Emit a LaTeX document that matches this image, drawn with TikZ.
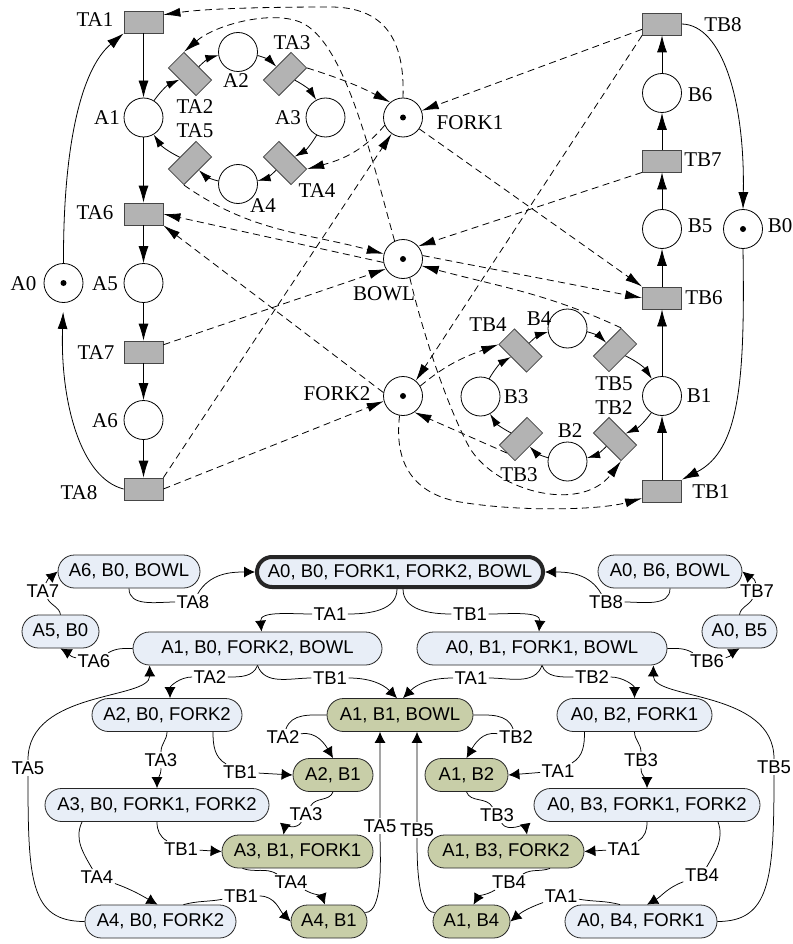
\documentclass[tikz,border=0pt]{standalone}
\usepackage{fontspec}
\setmainfont{Liberation Serif}
\newfontfamily\statefont{Liberation Sans}
\usetikzlibrary{arrows.meta}
\definecolor{transfill}{RGB}{179,179,179}
\definecolor{transline}{RGB}{70,70,70}
\definecolor{stateblue}{RGB}{232,238,247}
\definecolor{stategreen}{RGB}{200,206,168}
\begin{document}
\begin{tikzpicture}[x=1pt,y=-1pt,
  petriplace/.style={circle,draw,line width=0.8pt,minimum size=39pt,inner sep=0pt},
  petritrans/.style={rectangle,draw=transline,fill=transfill,line width=0.8pt,minimum width=39pt,minimum height=22pt,inner sep=0pt},
  plabel/.style={font=\fontsize{21}{24}\selectfont,inner sep=0pt},
  flowarc/.style={line width=0.8pt,-{Latex[length=17pt,width=10pt]}},
  ringarc/.style={line width=0.8pt,-{Latex[length=13pt,width=8pt]}},
  sharearc/.style={line width=0.8pt,dash pattern=on 7pt off 4.5pt,-{Latex[length=17pt,width=9pt]}},
  stnode/.style={rectangle,draw=black!85,line width=0.8pt,fill=stateblue,rounded corners=16.5pt,minimum height=33pt,inner xsep=3pt,inner ysep=0pt,font=\statefont\fontsize{18.5}{20}\selectfont},
  stboth/.style={stnode,fill=stategreen},
  ststart/.style={stnode,line width=4pt,rounded corners=15pt,minimum height=30pt},
  elabel/.style={font=\statefont\fontsize{18.5}{20}\selectfont,inner sep=1.5pt},
  firearc/.style={line width=0.75pt,-{Latex[length=11pt,width=11pt]}},
]
\fill[white] (0,0) rectangle (792,944);
\useasboundingbox (0,0) rectangle (792,944);

% ---------------- Petri net: philosopher A ----------------
\node[petritrans] (TA1) at (143.5,22) {};
\node[petriplace] (A1) at (143.5,117.5) {};
\node[petritrans] (TA6) at (143.5,214) {};
\node[petriplace] (A5) at (143.5,283) {};
\node[petritrans] (TA7) at (143.5,352) {};
\node[petriplace] (A6) at (143.5,420) {};
\node[petritrans] (TA8) at (143.5,489) {};
\node[petriplace] (A0) at (63.5,283) {};
\node[petriplace] (A2) at (238,52) {};
\node[petriplace] (A3) at (325.5,117.5) {};
\node[petriplace] (A4) at (238,184) {};
\node[petritrans,rotate=-45] (TA2) at (190,74) {};
\node[petritrans,rotate=45] (TA3) at (285,74) {};
\node[petritrans,rotate=-45] (TA4) at (285,163) {};
\node[petritrans,rotate=45] (TA5) at (190,163) {};

% shared resources
\node[petriplace] (F1) at (403,117.5) {};
\node[petriplace] (BW) at (403,259) {};
\node[petriplace] (F2) at (403,396) {};

% ---------------- Petri net: philosopher B ----------------
\node[petritrans] (TB8) at (662,24) {};
\node[petriplace] (B6) at (662,93) {};
\node[petritrans] (TB7) at (662,161) {};
\node[petriplace] (B5) at (662,229) {};
\node[petriplace] (B0) at (743,229) {};
\node[petritrans] (TB6) at (662,298) {};
\node[petriplace] (B1) at (662,396) {};
\node[petritrans] (TB1) at (662,491) {};
\node[petriplace] (B4) at (567.5,328.5) {};
\node[petriplace] (B3) at (480.5,396.5) {};
\node[petriplace] (B2) at (567.5,461.5) {};
\node[petritrans,rotate=-45] (TB4) at (520.5,350.5) {};
\node[petritrans,rotate=45] (TB5) at (615,350) {};
\node[petritrans,rotate=-45] (TB2) at (615,439) {};
\node[petritrans,rotate=45] (TB3) at (521,439) {};

% tokens
\foreach \p in {A0,F1,BW,F2,B0} \fill (\p) circle (3pt);

% place and transition names
\node[plabel] (lTA1) at (95,20) {TA1};
\node[plabel] (lA1) at (107,117.5) {A1};
\node[plabel] (lTA2) at (195,107) {TA2};
\node[plabel] (lA2) at (236,81) {A2};
\node[plabel] (lTA3) at (292,43) {TA3};
\node[plabel] (lA3) at (288,117.5) {A3};
\node[plabel] (lTA4) at (317,191) {TA4};
\node[plabel] (lA4) at (263,206) {A4};
\node[plabel] (lTA5) at (195,131) {TA5};
\node[plabel] (lTA6) at (95,213) {TA6};
\node[plabel] (lA0) at (23.5,283.5) {A0};
\node[plabel] (lA5) at (105,283.5) {A5};
\node[plabel] (lTA7) at (96,353) {TA7};
\node[plabel] (lA6) at (105,421) {A6};
\node[plabel] (lTA8) at (79,493) {TA8};
\node[plabel] (lF1) at (470,123) {FORK1};
\node[plabel] (lBW) at (384,294) {BOWL};
\node[plabel] (lF2) at (337,394) {FORK2};
\node[plabel] (lTB8) at (723,25) {TB8};
\node[plabel] (lB6) at (700,95) {B6};
\node[plabel] (lTB7) at (703,160) {TB7};
\node[plabel] (lB5) at (700,226) {B5};
\node[plabel] (lB0) at (780,226) {B0};
\node[plabel] (lTB6) at (704,298) {TB6};
\node[plabel] (lB4) at (539,319) {B4};
\node[plabel] (lTB4) at (488,325) {TB4};
\node[plabel] (lB3) at (516,397) {B3};
\node[plabel] (lTB5) at (614,384) {TB5};
\node[plabel] (lTB2) at (614,408) {TB2};
\node[plabel] (lB1) at (699,396) {B1};
\node[plabel] (lB2) at (570,431) {B2};
\node[plabel] (lTB3) at (519,475) {TB3};
\node[plabel] (lTB1) at (711,492) {TB1};

% control flow of A
\draw[flowarc] (TA1) -- (A1);
\draw[flowarc] (A1) -- (TA6);
\draw[flowarc] (TA6) -- (A5);
\draw[flowarc] (A5) -- (TA7);
\draw[flowarc] (TA7) -- (A6);
\draw[flowarc] (A6) -- (TA8);
\draw[flowarc] (A0.north) .. controls (63,150) and (80,70) .. (TA1.south west);
\draw[flowarc,shorten >=9pt] (TA8.west) .. controls (80,478) and (60,400) .. (A0.south);
\draw[ringarc] (A1) to[bend left=15] (TA2);
\draw[ringarc] (TA2) to[bend left=15] (A2);
\draw[ringarc] (A2) to[bend left=15] (TA3);
\draw[ringarc] (TA3) to[bend left=15] (A3);
\draw[ringarc] (A3) to[bend left=15] (TA4);
\draw[ringarc] (TA4) to[bend left=15] (A4);
\draw[ringarc] (A4) to[bend left=15] (TA5);
\draw[ringarc] (TA5) to[bend left=15] (A1);

% control flow of B
\draw[flowarc] (TB1) -- (B1);
\draw[flowarc] (B1) -- (TB6);
\draw[flowarc] (TB6) -- (B5);
\draw[flowarc] (B5) -- (TB7);
\draw[flowarc] (TB7) -- (B6);
\draw[flowarc] (B6) -- (TB8);
\draw[flowarc] (TB8.east) .. controls (722,25) and (745,100) .. (B0.north);
\draw[flowarc] (B0.south) .. controls (745,380) and (740,450) .. (TB1.north east);
\draw[ringarc] (B1) to[bend left=15] (TB2);
\draw[ringarc] (TB2) to[bend left=15] (B2);
\draw[ringarc] (B2) to[bend left=15] (TB3);
\draw[ringarc] (TB3) to[bend left=15] (B3);
\draw[ringarc] (B3) to[bend left=15] (TB4);
\draw[ringarc] (TB4) to[bend left=15] (B4);
\draw[ringarc] (B4) to[bend left=15] (TB5);
\draw[ringarc] (TB5) to[bend left=15] (B1);

% resource arcs of A
\draw[sharearc] (F1.north) .. controls (405,40) and (385,7) .. (330,7) .. controls (280,7) and (210,8) .. (TA1.20);
\draw[sharearc] (BW.115) .. controls (372,160) and (345,40) .. (300,22) .. controls (270,10) and (215,25) .. (TA2.north west);
\draw[sharearc] (TA3.south east) to[bend left=5] (F1.130);
\draw[sharearc] (F1.203) to[out=230,in=15] (TA4.north east);
\draw[sharearc] (TA5.south west) to[out=-35,in=165] (BW.165);
\draw[sharearc] (BW.190) -- (TA6.east);
\draw[sharearc] (F2.170) -- (TA6.south east);
\draw[sharearc] (TA7.20) -- (BW.210);
\draw[sharearc] (TA8.north east) -- (F1.235);
\draw[sharearc] (TA8.east) -- (F2.195);

% resource arcs of B
\draw[sharearc] (TB8.195) -- (F1.20);
\draw[sharearc] (TB8.south west) -- (F2.50);
\draw[sharearc] (TB7.south west) -- (BW.40);
\draw[sharearc] (F1.-35) -- (TB6.north west);
\draw[sharearc] (BW.10) -- (TB6.west);
\draw[sharearc] (TB5.north east) to[out=155,in=-15] (BW.-20);
\draw[sharearc] (F2.30) to[out=40,in=200] (TB4.south west);
\draw[sharearc] (TB3.west) -- (F2.-55);
\draw[sharearc] (BW.-70) .. controls (422,330) and (445,400) .. (467,443) .. controls (490,490) and (580,515) .. (TB2.south east);
\draw[sharearc] (F2.-100) .. controls (393,470) and (420,495) .. (460,502) .. controls (520,512) and (600,510) .. (TB1.200);

% ---------------- reachability graph ----------------
\node[stnode,minimum width=142pt] (qa6) at (129,571.5) {A6, B0, BOWL};
\node[ststart,minimum width=286pt] (q0) at (400,572) {A0, B0, FORK1, FORK2, BOWL};
\node[stnode,minimum width=144pt] (qb6) at (670,571.5) {A0, B6, BOWL};
\node[stnode,minimum width=77pt] (qa5) at (60.5,631.5) {A5, B0};
\node[stnode,minimum width=75pt] (qb5) at (739.5,631.5) {A0, B5};
\node[stnode,minimum width=249pt] (qa1) at (257.5,648.5) {A1, B0, FORK2, BOWL};
\node[stnode,minimum width=250pt] (qb1) at (542,648.5) {A0, B1, FORK1, BOWL};
\node[stnode,minimum width=150pt] (qa2) at (167,715) {A2, B0, FORK2};
\node[stboth,minimum width=146pt] (qa1b1) at (400,715) {A1, B1, BOWL};
\node[stnode,minimum width=155pt] (qb2) at (634.5,715) {A0, B2, FORK1};
\node[stboth,minimum width=80pt] (qa2b1) at (333,775) {A2, B1};
\node[stboth,minimum width=83pt] (qa1b2) at (466.5,775) {A1, B2};
\node[stnode,minimum width=224pt] (qa3) at (157,805) {A3, B0, FORK1, FORK2};
\node[stnode,minimum width=226pt] (qb3) at (647,805) {A0, B3, FORK1, FORK2};
\node[stboth,minimum width=151pt] (qa3b1) at (297.5,851.5) {A3, B1, FORK1};
\node[stboth,minimum width=156pt] (qa1b3) at (506,851.5) {A1, B3, FORK2};
\node[stnode,minimum width=151pt] (qa4) at (160.5,921.5) {A4, B0, FORK2};
\node[stboth,minimum width=76pt] (qa4b1) at (329,921.5) {A4, B1};
\node[stboth,minimum width=77pt] (qa1b4) at (471.5,921.5) {A1, B4};
\node[stnode,minimum width=152pt] (qb4) at (641,921.5) {A0, B4, FORK1};

% transition labels on the edges
\node[elabel] (e1) at (193,602) {TA8};
\node[elabel] (e2) at (330,614) {TA1};
\node[elabel] (e3) at (470,614) {TB1};
\node[elabel] (e4) at (606,602) {TB8};
\node[elabel] (e5) at (43,591) {TA7};
\node[elabel] (e6) at (94,661) {TA6};
\node[elabel] (e7) at (210,677) {TA2};
\node[elabel] (e8) at (330,678) {TB1};
\node[elabel] (e9) at (471,678) {TA1};
\node[elabel] (e10) at (592,677) {TB2};
\node[elabel] (e11) at (707,661) {TB6};
\node[elabel] (e12) at (757,591) {TB7};
\node[elabel] (e13) at (28,768) {TA5};
\node[elabel] (e14) at (774,767) {TB5};
\node[elabel] (e15) at (161,760) {TA3};
\node[elabel] (e16) at (240,772) {TB1};
\node[elabel] (e17) at (283,737) {TA2};
\node[elabel] (e18) at (516,737) {TB2};
\node[elabel] (e19) at (641,760) {TB3};
\node[elabel] (e20) at (558,771) {TA1};
\node[elabel] (e21) at (306,814) {TA3};
\node[elabel] (e22) at (497,815) {TB3};
\node[elabel] (e23) at (181,849) {TB1};
\node[elabel] (e24) at (624,849) {TA1};
\node[elabel] (e25) at (97,877) {TA4};
\node[elabel] (e26) at (702,875) {TB4};
\node[elabel] (e27) at (291,882) {TA4};
\node[elabel] (e28) at (509,882) {TB4};
\node[elabel] (e29) at (241,896) {TB1};
\node[elabel] (e30) at (561,896) {TA1};
\node[elabel] (e31) at (380,826) {TA5};
\node[elabel] (e32) at (417,830) {TB5};

% edges
\draw[firearc] (qa6.south) to[out=-90,in=180] (e1) to[out=60,in=180] (q0.west);
\draw[firearc] ([xshift=-3pt]q0.south) to[out=-90,in=0] (e2) to[out=180,in=95] ([xshift=4pt]qa1.north);
\draw[firearc] ([xshift=3pt]q0.south) to[out=-90,in=180] (e3) to[out=0,in=85] ([xshift=-3pt]qb1.north);
\draw[firearc] (qb6.south) to[out=-90,in=0] (e4) to[out=120,in=0] (q0.east);
\draw[firearc] (qa5.north) to[out=100,in=-60] (e5) to[out=70,in=-140] (qa6.west);
\draw[firearc] (qa1.west) to[out=180,in=30] (e6) to[out=170,in=-30] (qa5.south);
\draw[firearc] (qa1.south) to[out=-110,in=0] (e7) to[out=180,in=90] ([xshift=3pt]qa2.north);
\draw[firearc] (qa1.south) to[out=-70,in=180] (e8) to[out=0,in=135] ([xshift=-3pt]qa1b1.north);
\draw[firearc] (qb1.south) to[out=-110,in=0] (e9) to[out=180,in=45] ([xshift=3pt]qa1b1.north);
\draw[firearc] (qb1.south) to[out=-70,in=180] (e10) to[out=0,in=90] (qb2.north);
\draw[firearc] (qb1.east) to[out=0,in=150] (e11) to[out=10,in=-150] (qb5.south);
\draw[firearc] (qb5.north) to[out=80,in=-120] (e12) to[out=100,in=-40] (qb6.east);
\draw[firearc] (qa4.west) .. controls (30,921.5) and (28,880) .. (e13) .. controls (28,690) and (150,700) .. ([xshift=17pt]qa1.south west);
\draw[firearc] (qb4.east) .. controls (770,921.5) and (774,880) .. (e14) .. controls (774,690) and (653,700) .. ([xshift=-14pt]qb1.south east);
\draw[firearc] (qa2.south) to[out=-90,in=90] (e15) to[out=-90,in=90] (qa3.north);
\draw[firearc] ([xshift=46pt]qa2.south) to[out=-90,in=150] (e16) -- (qa2b1.west);
\draw[firearc] (qa1b1.west) to[out=180,in=70] (e17) to[out=10,in=120] (qa2b1.north);
\draw[firearc] (qa1b1.east) to[out=0,in=110] (e18) to[out=170,in=60] (qa1b2.north);
\draw[firearc] (qb2.south) to[out=-90,in=90] (e19) to[out=-90,in=90] (qb3.north);
\draw[firearc] ([xshift=-50pt]qb2.south) to[out=-90,in=30] (e20) -- (qa1b2.east);
\draw[firearc] (qa2b1.south) to[out=-110,in=60] (e21) to[out=-120,in=80] ([xshift=-14pt]qa3b1.north);
\draw[firearc] (qa1b2.south) to[out=-70,in=120] (e22) to[out=-60,in=100] ([xshift=21pt]qa1b3.north);
\draw[firearc] (qa3.south) to[out=-90,in=150] (e23) -- (qa3b1.west);
\draw[firearc] (qb3.south) to[out=-90,in=30] (e24) -- (qa1b3.east);
\draw[firearc] ([xshift=-75pt]qa3.south) to[out=-115,in=120] (e25) to[out=-20,in=150] ([xshift=-3pt]qa4.north);
\draw[firearc] ([xshift=71pt]qb3.south) to[out=-70,in=60] (e26) to[out=200,in=30] ([xshift=6pt]qb4.north);
\draw[firearc] ([xshift=-55pt]qa3b1.south) to[out=-20,in=150] (e27) to[out=-30,in=110] ([xshift=-4pt]qa4b1.north);
\draw[firearc] ([xshift=44pt]qa1b3.south) to[out=200,in=30] (e28) to[out=210,in=60] ([xshift=2pt]qa1b4.north);
\draw[firearc] ([xshift=23pt]qa4.north) to[out=15,in=190] (e29) to[out=0,in=135] (qa4b1.west);
\draw[firearc] ([xshift=-21pt]qb4.north) to[out=165,in=-10] (e30) to[out=200,in=40] (qa1b4.east);
\draw[firearc] ([shift={(-2pt,9pt)}]qa4b1.east) to[out=0,in=-90,looseness=0.6] (e31) -- ([xshift=-20pt]qa1b1.south);
\draw[firearc] ([shift={(2pt,9pt)}]qa1b4.west) to[out=180,in=-90,looseness=0.6] (e32) -- ([xshift=17pt]qa1b1.south);
\end{tikzpicture}
\end{document}
